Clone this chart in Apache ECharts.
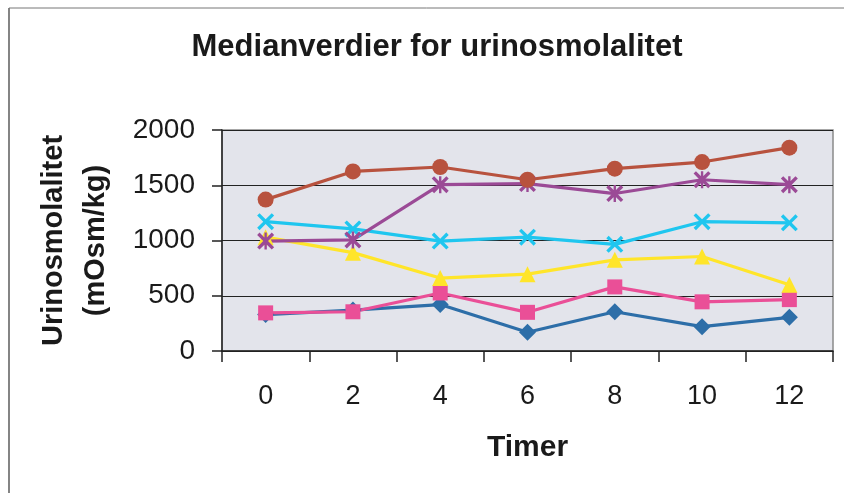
<!DOCTYPE html>
<html>
<head>
<meta charset="utf-8">
<script src="https://cdn.jsdelivr.net/npm/echarts@6/dist/echarts.min.js"></script>
<style>
  html, body { margin: 0; padding: 0; background: #fff; }
  #chart { width: 844px; height: 493px; }
</style>
</head>
<body>
<div id="chart"></div>
<script>
// Hours after start
const timer = ['0', '2', '4', '6', '8', '10', '12'];
const yTicks = [0, 500, 1000, 1500, 2000];

// Median urine osmolality (mOsm/kg), one array per group
const seriesBlue   = [330, 370, 420, 170, 355, 220, 305];
const seriesPink   = [345, 355, 525, 350, 580, 445, 465];
const seriesYellow = [1030, 890, 660, 695, 825, 855, 600];
const seriesCyan   = [1170, 1105, 995, 1030, 965, 1170, 1160];
const seriesPurple = [995, 1005, 1505, 1515, 1425, 1550, 1505];
const seriesBrown  = [1370, 1625, 1665, 1550, 1650, 1710, 1840];

// Marker shapes: cross and asterisk drawn as filled outlines
const crossPath = 'path://M0,1.4 L1.4,0 L5,3.6 L8.6,0 L10,1.4 L6.4,5 L10,8.6 L8.6,10 L5,6.4 L1.4,10 L0,8.6 L3.6,5 Z';
const starPath = crossPath + ' M4.3,0 L5.7,0 L5.7,10 L4.3,10 Z';

function line(name, data, color, symbol, size) {
  return {
    name: name,
    type: 'line',
    data: data,
    symbol: symbol,
    symbolSize: size,
    showSymbol: true,
    lineStyle: { color: color, width: 3.2 },
    itemStyle: { color: color, borderWidth: 0 },
    emphasis: { disabled: true },
    z: 3
  };
}

const chart = echarts.init(document.getElementById('chart'), null, { renderer: 'canvas' });

const font = '"Liberation Sans", Arial, sans-serif';

chart.setOption({
  animation: false,
  backgroundColor: '#ffffff',
  title: {
    text: 'Medianverdier for urinosmolalitet',
    left: 432,
    textAlign: 'center',
    top: 27,
    textStyle: { fontFamily: font, fontWeight: 'bold', fontSize: 31, color: '#1a1a1a' }
  },
  graphic: [
    { type: 'line', shape: { x1: 9, y1: 8, x2: 9, y2: 493 }, style: { stroke: '#333', lineWidth: 1.2 } },
    { type: 'line', shape: { x1: 9, y1: 8, x2: 844, y2: 8 }, style: { stroke: '#777', lineWidth: 1 } }
  ],
  grid: {
    left: 222, right: 11, top: 130, bottom: 142,
    show: true,
    backgroundColor: '#E3E4EB',
    borderColor: '#8a8a8a',
    borderWidth: 1.5
  },
  xAxis: {
    type: 'category',
    data: timer,
    boundaryGap: true,
    name: 'Timer',
    nameLocation: 'middle',
    nameGap: 82,
    nameTextStyle: { fontFamily: font, fontWeight: 'bold', fontSize: 30, color: '#1a1a1a' },
    axisLine: { lineStyle: { color: '#222', width: 1.5 } },
    axisTick: { show: true, alignWithLabel: false, length: 11, inside: false, lineStyle: { color: '#222', width: 1.5 } },
    axisLabel: { fontFamily: font, fontSize: 27, color: '#1a1a1a', margin: 32 },
    splitLine: { show: false }
  },
  yAxis: {
    type: 'value',
    min: yTicks[0],
    max: yTicks[yTicks.length - 1],
    interval: yTicks[1] - yTicks[0],
    name: 'Urinosmolalitet\n(mOsm/kg)',
    nameLocation: 'middle',
    nameRotate: 90,
    nameGap: 105,
    nameTextStyle: { fontFamily: font, fontWeight: 'bold', fontSize: 29, color: '#1a1a1a', lineHeight: 42 },
    axisLine: { show: true, lineStyle: { color: '#222', width: 1.5 } },
    axisTick: { show: true, length: 10, lineStyle: { color: '#222', width: 1.5 } },
    axisLabel: {
      fontFamily: font, fontSize: 28, color: '#1a1a1a', margin: 27,
      formatter: function (v) { return String(v); }
    },
    splitLine: { show: true, lineStyle: { color: '#222', width: 1.2 } }
  },
  series: [
    line('Blå', seriesBlue, '#2D6EA8', 'diamond', 17),
    line('Rosa', seriesPink, '#EA4F97', 'rect', 15),
    line('Gul', seriesYellow, '#FFE52A', 'triangle', 16),
    line('Turkis', seriesCyan, '#1FC6EF', crossPath, 17),
    line('Lilla', seriesPurple, '#9B4A96', starPath, 17),
    line('Brun', seriesBrown, '#B8523E', 'circle', 16)
  ]
});
</script>
</body>
</html>
